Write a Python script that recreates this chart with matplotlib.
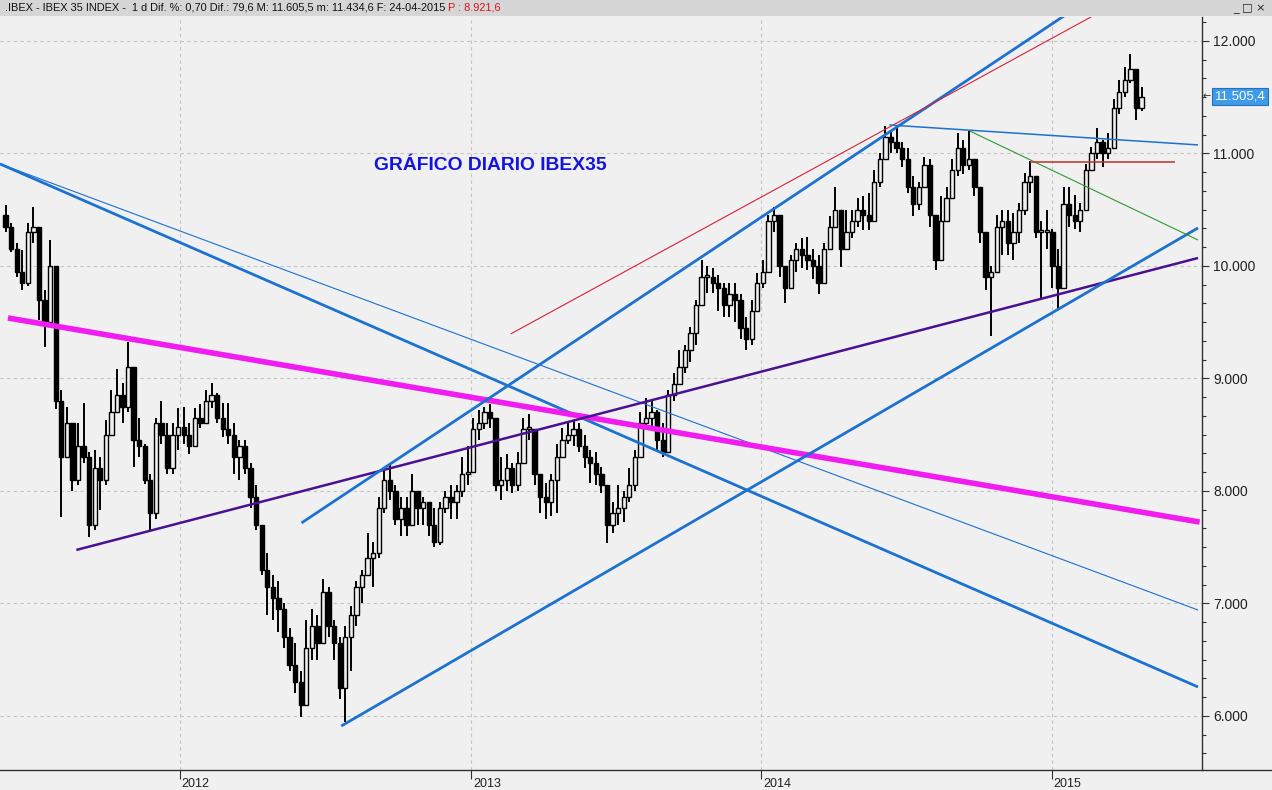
import matplotlib
matplotlib.use("Agg")
import matplotlib.pyplot as plt
import matplotlib.dates as mdates
import matplotlib.transforms as mtransforms
from matplotlib.patches import Rectangle
from matplotlib.lines import Line2D
from matplotlib.ticker import MultipleLocator
import pandas as pd

plt.rcParams['font.family'] = ['Liberation Sans', 'DejaVu Sans']

# ---------------- data (weekly candles) ----------------
first_week = "2011-05-27"
first_open = 10450
highs = [10540, 10380, 10200, 10140, 10380, 10520, 10350, 9790, 10230, 10000,
         8900, 8750, 8600, 8600, 8780, 8350, 8360, 8300, 8630, 8900,
         9080, 8960, 9320, 9100, 8650, 8420, 8150, 8650, 8800, 8600,
         8600, 8740, 8750, 8600, 8740, 8770, 8900, 8960, 8870, 8780,
         8780, 8600, 8450, 8450, 8250, 8050, 7700, 7450, 7250, 7200,
         7000, 6780, 6650, 6400, 6850, 6950, 6900, 7220, 7150, 6850,
         6700, 6800, 6980, 7200, 7300, 7630, 7550, 7950, 8200, 8250,
         8050, 7950, 7950, 8150, 8000, 7950, 7900, 7850, 7900, 8000,
         8050, 8050, 8300, 8400, 8650, 8720, 8750, 8770, 8600, 8300,
         8330, 8250, 8350, 8650, 8680, 8500, 8150, 8070, 8150, 8420,
         8560, 8600, 8620, 8600, 8500, 8360, 8350, 8210, 8000, 7900,
         8050, 8000, 8200, 8360, 8700, 8830, 8800, 8720, 8600, 8900,
         9050, 9250, 9300, 9460, 9700, 10050, 10000, 9980, 9920, 9850,
         9850, 9850, 9750, 9550, 9700, 9940, 10050, 10450, 10520, 10450,
         10000, 10100, 10200, 10250, 10260, 10150, 10100, 10200, 10440, 10700,
         10450, 10500, 10500, 10600, 10620, 10650, 10850, 11000, 11240, 11210,
         11240, 11100, 11050, 10800, 10750, 10970, 10950, 10400, 10620, 10700,
         10950, 11180, 11120, 11200, 10950, 10700, 10300, 10000, 10450, 10500,
         10500, 10470, 10560, 10830, 10930, 10750, 10400, 10500, 10330, 10150,
         10700, 10700, 10630, 10560, 10910, 11060, 11230, 11120, 11180, 11480,
         11650, 11770, 11880, 11630, 11590]
lows = [10300, 10120, 9900, 9790, 9820, 10200, 9520, 9280, 9480, 8730,
        7770, 8300, 8000, 8050, 8250, 7590, 7650, 7830, 8050, 8500,
        8700, 8600, 8700, 8210, 8300, 8060, 7650, 7750, 8420, 8150,
        8150, 8360, 8420, 8330, 8400, 8560, 8600, 8740, 8600, 8480,
        8420, 8150, 8100, 8150, 7850, 7650, 7250, 6900, 6850, 6750,
        6600, 6400, 6200, 5990, 6150, 6500, 6500, 6650, 6700, 6500,
        6150, 5950, 6400, 6800, 7000, 7250, 7150, 7400, 7800, 7920,
        7700, 7600, 7600, 7700, 7700, 7700, 7600, 7500, 7520, 7800,
        7750, 7750, 7950, 8050, 8200, 8450, 8550, 8560, 8000, 7920,
        8000, 7980, 8000, 8250, 8450, 8050, 7800, 7750, 7780, 7800,
        8300, 8420, 8400, 8350, 8200, 8070, 8050, 7980, 7540, 7630,
        7700, 7720, 7900, 8000, 8300, 8550, 8550, 8360, 8300, 8400,
        8800, 9000, 9050, 9150, 9300, 9650, 9760, 9760, 9600, 9550,
        9550, 9500, 9350, 9250, 9300, 9650, 9800, 10000, 10300, 9900,
        9670, 9800, 9950, 9980, 9960, 9880, 9750, 9950, 10150, 10350,
        9990, 10150, 10250, 10350, 10320, 10320, 10400, 10700, 10950, 11000,
        11000, 10880, 10650, 10440, 10500, 10700, 10350, 9960, 10050, 10400,
        10600, 10800, 10820, 10850, 10620, 10200, 9790, 9380, 9950, 10100,
        10100, 10050, 10200, 10450, 10650, 10250, 9700, 10150, 9800, 9620,
        9900, 10350, 10330, 10300, 10500, 10850, 10950, 10880, 10950, 11050,
        11350, 11500, 11630, 11300, 11380]
closes = [10350, 10150, 9950, 9850, 10300, 10350, 9700, 9500, 10000, 8800,
          8300, 8600, 8100, 8400, 8300, 7700, 8200, 8100, 8500, 8700,
          8850, 8750, 9100, 8450, 8400, 8100, 7800, 8600, 8500, 8200,
          8500, 8570, 8500, 8400, 8650, 8600, 8800, 8850, 8650, 8550,
          8500, 8300, 8400, 8200, 7950, 7700, 7300, 7150, 7050, 6950,
          6700, 6450, 6300, 6100, 6600, 6800, 6650, 7100, 6800, 6650,
          6250, 6700, 6900, 7150, 7250, 7400, 7450, 7850, 8100, 8000,
          7750, 7850, 7700, 8000, 7850, 7900, 7700, 7550, 7850, 7950,
          7900, 8000, 8150, 8170, 8550, 8600, 8700, 8650, 8050, 8100,
          8200, 8050, 8250, 8550, 8550, 8150, 7950, 7900, 8100, 8300,
          8450, 8500, 8550, 8400, 8300, 8250, 8150, 8050, 7700, 7800,
          7850, 7950, 8050, 8300, 8600, 8650, 8700, 8450, 8350, 8850,
          8950, 9100, 9250, 9400, 9650, 9900, 9900, 9850, 9800, 9650,
          9750, 9700, 9450, 9350, 9600, 9850, 9950, 10400, 10450, 10000,
          9800, 10050, 10150, 10100, 10050, 10000, 9850, 10150, 10350, 10500,
          10150, 10300, 10400, 10500, 10450, 10400, 10750, 10950, 11150, 11100,
          11050, 10950, 10700, 10550, 10700, 10900, 10450, 10050, 10400, 10600,
          10850, 11050, 10900, 10950, 10700, 10300, 9900, 9950, 10350, 10400,
          10200, 10300, 10500, 10750, 10800, 10300, 10300, 10300, 10000, 9800,
          10550, 10450, 10400, 10500, 10850, 11000, 11100, 11000, 11050, 11400,
          11550, 11650, 11750, 11400, 11505]

y_ticks = [6000, 7000, 8000, 9000, 10000, 11000, 12000]
y_tick_labels = ["6.000", "7.000", "8.000", "9.000", "10.000", "11.000", "12.000"]
year_ticks = ["2012-01-01", "2013-01-01", "2014-01-01", "2015-01-01"]
year_labels = ["2012", "2013", "2014", "2015"]
last_price = 11505.4
last_label = "11.505,4"

header_text = ".IBEX - IBEX 35 INDEX -  1 d Dif. %: 0,70 Dif.: 79,6 M: 11.605,5 m: 11.434,6 F: 24-04-2015 "
header_red = "P : 8.921,6"
title_text = "GRÁFICO DIARIO IBEX35"

# trend lines: (start date, start value), (end date, end value)
line_down_thick = (("2011-05-20", 10907), ("2015-07-04", 6258))
line_down_thin = (("2011-05-20", 10907), ("2015-07-04", 6942))
line_magenta = (("2011-05-30", 9538), ("2015-07-06", 7724))
line_purple = (("2011-08-24", 7476), ("2015-07-04", 10071))
line_up_upper = (("2012-06-02", 7716), ("2015-03-01", 12427))
line_up_lower = (("2012-07-22", 5911), ("2015-07-04", 10338))
line_red_thin = (("2013-02-20", 9396), ("2015-03-03", 12258))
line_blue_flat = (("2014-06-11", 11253), ("2015-07-04", 11076))
line_green = (("2014-09-20", 11200), ("2015-07-04", 10231))
line_red_flat = (("2014-12-05", 10924), ("2015-06-05", 10924))

# ---------------- figure ----------------
W, H = 1272, 790
BG = "#f0f0f0"
fig = plt.figure(figsize=(W / 100, H / 100), dpi=100, facecolor=BG)
ax = fig.add_axes([0, 20 / H, 1202 / W, (770 - 17) / H])
ax.set_facecolor(BG)

dates = pd.date_range(first_week, periods=len(closes), freq="W-FRI")
xs = mdates.date2num(dates)
opens = [first_open] + closes[:-1]

body_w = 5.4
for xi, o, h, l, c in zip(xs, opens, highs, lows, closes):
    ax.vlines(xi, l, h, color="black", lw=1.4, zorder=3)
    up = c >= o
    bottom = min(o, c)
    height = max(abs(c - o), 20)
    ax.add_patch(Rectangle((xi - body_w / 2, bottom), body_w, height,
                           facecolor=BG if up else "black", edgecolor="black",
                           lw=1.0, zorder=4))


def draw(line, color, lw):
    (d0, v0), (d1, v1) = line
    ax.plot([mdates.date2num(pd.Timestamp(d0)), mdates.date2num(pd.Timestamp(d1))],
            [v0, v1], color=color, lw=lw, zorder=5, solid_capstyle="butt")


BLUE = "#1c72d0"
draw(line_down_thin, BLUE, 0.8)
draw(line_down_thick, BLUE, 2.0)
draw(line_magenta, "#f01cf0", 4.0)
draw(line_purple, "#4a1190", 1.8)
draw(line_up_upper, BLUE, 2.0)
draw(line_up_lower, BLUE, 2.0)
draw(line_red_thin, "#d8203c", 0.8)
draw(line_blue_flat, BLUE, 1.1)
draw(line_green, "#2e9a2e", 0.8)
draw(line_red_flat, "#b8342a", 1.1)

ax.set_xlim(mdates.date2num(pd.Timestamp("2011-05-20")),
            mdates.date2num(pd.Timestamp("2015-07-09")))
ax.set_ylim(5520, 12213)

for s in ["top", "left", "bottom"]:
    ax.spines[s].set_visible(False)
ax.spines["right"].set_color("#303030")
ax.spines["right"].set_linewidth(1.0)

ax.yaxis.tick_right()
ax.set_yticks(y_ticks, y_tick_labels)
ax.yaxis.set_minor_locator(MultipleLocator(1000 / 6))
ax.tick_params(axis="y", which="major", length=5, width=0.8, pad=3,
               labelsize=10, colors="#303030", labelcolor="#202020")
ax.tick_params(axis="y", which="minor", length=3, width=0.8, colors="#303030")

year_nums = [mdates.date2num(pd.Timestamp(d)) for d in year_ticks]
ax.set_xticks(year_nums)
ax.set_xticklabels([])
ax.tick_params(axis="x", which="major", length=6.5, width=0.8, colors="#303030")
ax.xaxis.set_minor_locator(plt.NullLocator())
off = mtransforms.offset_copy(ax.get_xaxis_transform(), fig=fig, x=2, y=-8, units="dots")
for xn, lab in zip(year_nums, year_labels):
    ax.text(xn, 0, lab, transform=off, ha="left", va="top", fontsize=9, color="#202020")

ax.grid(True, which="major", color="#c4c4c4", ls=(0, (3, 3)), lw=0.8)
ax.set_axisbelow(True)

# bottom axis line over the full width
fig.add_artist(Line2D([0, 1], [20 / H, 20 / H], color="#303030", lw=1.0))

# header bar
fig.add_artist(Rectangle((0, 1 - 16 / H), 1, 16 / H, transform=fig.transFigure,
                         facecolor="#d6d6d6", edgecolor="none"))
t = fig.text(5 / W, 1 - 8 / H, header_text, ha="left", va="center", fontsize=7.9, color="#101010")
fig.canvas.draw()
bb = t.get_window_extent()
fig.text(bb.x1 / W, 1 - 8 / H, header_red, ha="left", va="center", fontsize=7.9, color="#e01020")
fig.text(1249 / W, 1 - 8 / H, "_ □ ×", ha="center", va="center", fontsize=8,
         color="#202020", family=["DejaVu Sans"])

# title annotation
fig.text(490 / W, 1 - 166 / H, title_text, ha="center", va="center", fontsize=13.9,
         fontweight="bold", color="#1414e0")

# last price marker
yfig = ax.transData.transform((0, last_price))[1]
fig.text(1203 / W, yfig / H, "←", ha="left", va="center", fontsize=7,
         color="#303030", family=["DejaVu Sans"])
fig.text(1215 / W, yfig / H, last_label, ha="left", va="center", fontsize=9.5,
         color="white", bbox=dict(boxstyle="square,pad=0.2", facecolor="#3d9be9",
                                  edgecolor="#2a70b8", lw=0.8))

fig.savefig("out.png", dpi=100, facecolor=BG)
